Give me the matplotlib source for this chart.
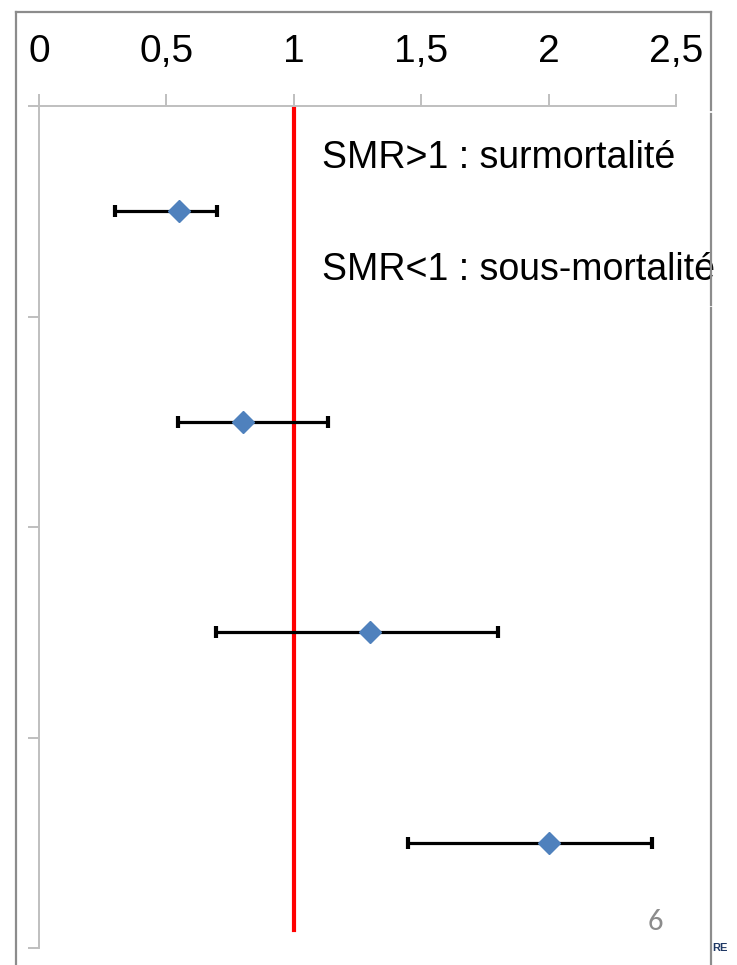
import matplotlib
matplotlib.use("Agg")
import matplotlib.pyplot as plt
from matplotlib.lines import Line2D

W, H = 737, 965
DPI = 100

# Data
categories = ["Groupe 1", "Groupe 2", "Groupe 3", "Groupe 4"]
smr = [0.55, 0.80, 1.30, 2.00]
ci_low = [0.30, 0.545, 0.695, 1.45]
ci_high = [0.70, 1.135, 1.80, 2.405]
xticks = [0, 0.5, 1, 1.5, 2, 2.5]
xtick_labels = ["0", "0,5", "1", "1,5", "2", "2,5"]

plt.rcParams['font.family'] = ['Liberation Sans', 'DejaVu Sans']

fig = plt.figure(figsize=(W / DPI, H / DPI), dpi=DPI)
fig.patch.set_facecolor("white")

def fx(px):
    return px / W

def fy(py):
    return 1 - py / H

ax = fig.add_axes([fx(39), fy(948), fx(676) - fx(39), fy(106) - fy(948)])
ax.set_xlim(0, 2.5)
n = len(categories)
ax.set_ylim(n + 0.5, 0.5)
ypos = list(range(1, n + 1))

for side in ["right", "bottom"]:
    ax.spines[side].set_visible(False)
for side in ["top", "left"]:
    ax.spines[side].set_color("#BFBFBF")
    ax.spines[side].set_linewidth(1.4)

ax.xaxis.tick_top()
ax.set_xticks(xticks)
ax.set_xticklabels(xtick_labels, fontsize=28)
ax.tick_params(axis="x", direction="out", length=9, width=1.4, color="#BFBFBF", pad=17)
ax.set_yticks([0.5 + i for i in range(n + 1)])
ax.set_yticklabels([])
ax.tick_params(axis="y", direction="out", length=8, width=1.4, color="#BFBFBF")

# red reference line
ax.axvline(1, ymin=(948 - 930) / 842, ymax=1, color="#FF0000", lw=3.0, zorder=2)

# error bars
xerr = [[s - l for s, l in zip(smr, ci_low)], [h - s for s, h in zip(smr, ci_high)]]
ax.errorbar(smr, ypos, xerr=xerr, fmt="none", ecolor="black", elinewidth=2.3,
            capsize=4, capthick=3, zorder=3)
ax.plot(smr, ypos, linestyle="none", marker="D", markersize=11.5,
        color="#4F81BD", markeredgecolor="#4F81BD", zorder=4)

ax.text(fx(322), fy(158), "SMR>1 : surmortalité", transform=fig.transFigure,
        fontsize=27, va="center", ha="left", color="black")
ax.text(fx(322), fy(270), "SMR<1 : sous-mortalité", transform=fig.transFigure,
        fontsize=27, va="center", ha="left", color="black")

# slide frame
frame_color = "#8C8C8C"
fig.add_artist(Line2D([fx(16), fx(711)], [fy(12), fy(12)], color=frame_color, lw=1.6))
fig.add_artist(Line2D([fx(16), fx(16)], [fy(12), fy(965)], color=frame_color, lw=1.6))
fig.add_artist(Line2D([fx(711), fx(711)], [fy(12), fy(110)], color=frame_color, lw=1.6))
fig.add_artist(Line2D([fx(711), fx(711)], [fy(114), fy(305)], color=frame_color, lw=1.6))
fig.add_artist(Line2D([fx(711), fx(711)], [fy(308), fy(965)], color=frame_color, lw=1.6))

fig.text(fx(655), fy(922), "6", fontsize=22, color="#8C8C8C", ha="center", va="center",
         family=["Carlito", "Liberation Sans", "DejaVu Sans"])
fig.text(fx(712), fy(948), "RE", fontsize=8, color="#1F3864", ha="left", va="center",
         fontweight="bold")

fig.savefig("out.png", dpi=DPI, facecolor="white")
